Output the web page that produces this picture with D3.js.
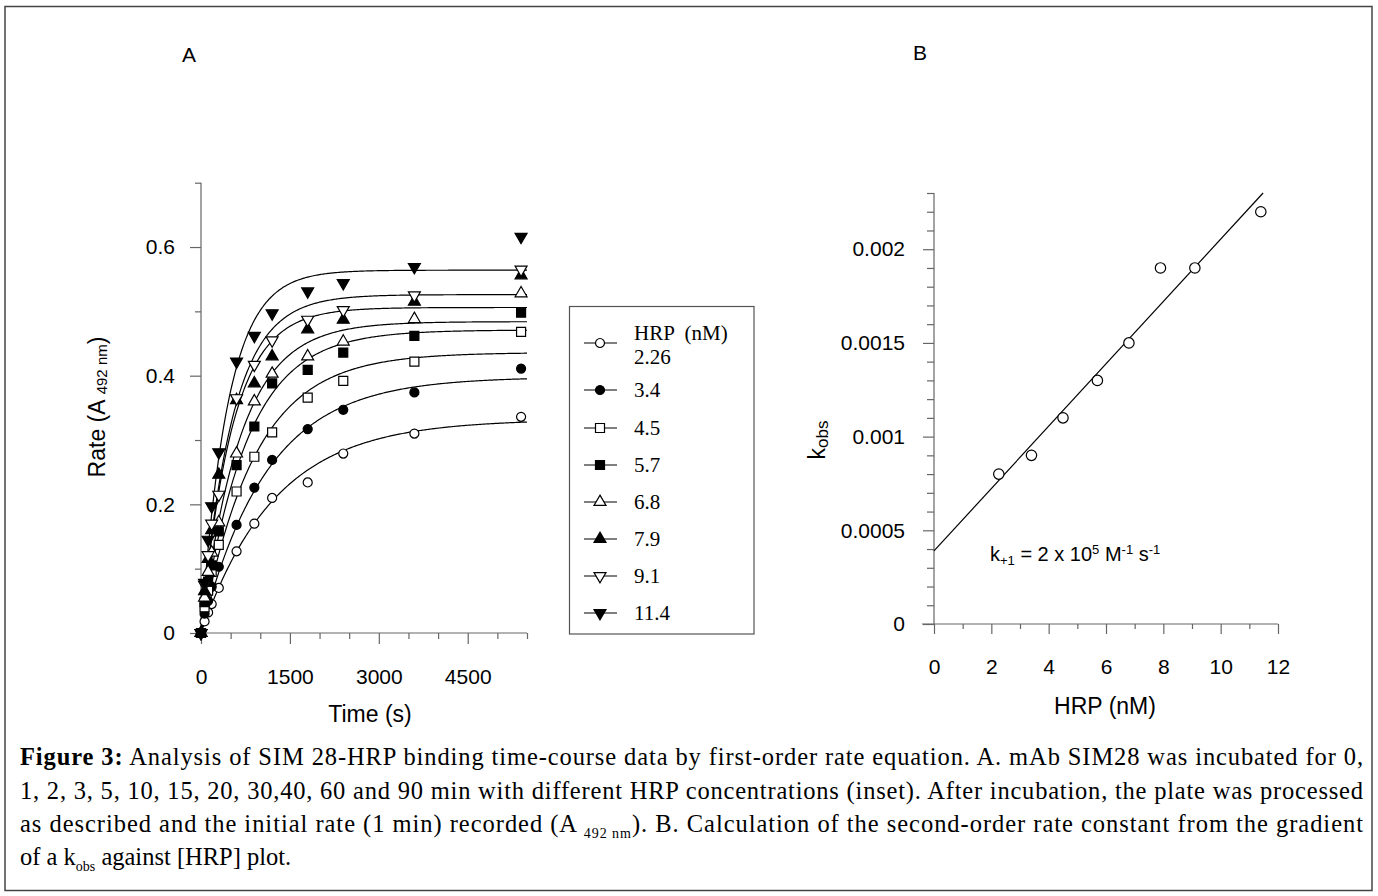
<!DOCTYPE html>
<html>
<head>
<meta charset="utf-8">
<script src="https://cdn.jsdelivr.net/npm/d3@7"></script>
<style>
  body { margin: 0; background: #fff; }
  svg { display: block; }
</style>
</head>
<body>
<svg id="fig"></svg>
<script>
const width = 1378, height = 896

// ---- panel A: rate vs incubation time, one series per HRP concentration ----
const times = [0, 60, 120, 180, 300, 600, 900, 1200, 1800, 2400, 3600, 5400]
const hrpLabels = ['2.26', '3.4', '4.5', '5.7', '6.8', '7.9', '9.1', '11.4']
const rate_2_26 = [0, 0.018, 0.032, 0.045, 0.070, 0.127, 0.170, 0.210, 0.234, 0.279, 0.310, 0.336]
const rate_3_4  = [0, 0.030, 0.050, 0.072, 0.103, 0.168, 0.226, 0.269, 0.317, 0.347, 0.374, 0.411]
const rate_4_5  = [0, 0.040, 0.066, 0.095, 0.137, 0.220, 0.274, 0.312, 0.366, 0.392, 0.422, 0.468]
const rate_5_7  = [0, 0.048, 0.080, 0.105, 0.158, 0.261, 0.321, 0.388, 0.409, 0.436, 0.462, 0.498]
const rate_6_8  = [0, 0.055, 0.095, 0.125, 0.172, 0.279, 0.360, 0.403, 0.430, 0.453, 0.488, 0.528]
const rate_7_9  = [0, 0.065, 0.115, 0.160, 0.246, 0.362, 0.388, 0.430, 0.472, 0.487, 0.515, 0.556]
const rate_9_1  = [0, 0.075, 0.121, 0.170, 0.215, 0.365, 0.417, 0.455, 0.487, 0.502, 0.525, 0.565]
const rate_11_4 = [0, 0.078, 0.145, 0.197, 0.281, 0.422, 0.462, 0.497, 0.531, 0.544, 0.569, 0.616]
const rates = [rate_2_26, rate_3_4, rate_4_5, rate_5_7, rate_6_8, rate_7_9, rate_9_1, rate_11_4]
const plateaus = [0.332, 0.398, 0.436, 0.471, 0.484, 0.506, 0.526, 0.564]

// ---- panel B: k_obs against HRP ----
const hrpConc = [2.26, 3.4, 4.5, 5.7, 6.8, 7.9, 9.1, 11.4]
const kobs = [0.0008, 0.0009, 0.0011, 0.0013, 0.0015, 0.0019, 0.0019, 0.0022]
const fitX = [0, 11.48]
const fitY = [0.00039, 0.0023]

// tick labels
const ticksAx = [0, 1500, 3000, 4500]
const ticksAy = [0, 0.2, 0.4, 0.6]
const ticksBx = [0, 2, 4, 6, 8, 10, 12]
const ticksBy = [0, 0.0005, 0.001, 0.0015, 0.002]

const sans = '"Liberation Sans", Arial, sans-serif'
const serif = '"Liberation Serif", "Times New Roman", serif'
const axisColor = '#666'

const svg = d3.select('#fig').attr('width', width).attr('height', height)

svg.append('rect')
    .attr('x', 5).attr('y', 6.5).attr('width', 1367).attr('height', 884)
    .attr('fill', 'none').attr('stroke', '#444').attr('stroke-width', 1.5)

// marker styles, in series order
const markers = [
  { type: d3.symbolCircle, size: 64, fill: '#fff', rot: 0 },
  { type: d3.symbolCircle, size: 64, fill: '#000', rot: 0 },
  { type: d3.symbolSquare, size: 81, fill: '#fff', rot: 0 },
  { type: d3.symbolSquare, size: 81, fill: '#000', rot: 0 },
  { type: d3.symbolTriangle, size: 62, fill: '#fff', rot: 0 },
  { type: d3.symbolTriangle, size: 62, fill: '#000', rot: 0 },
  { type: d3.symbolTriangle, size: 62, fill: '#fff', rot: 180 },
  { type: d3.symbolTriangle, size: 62, fill: '#000', rot: 180 }
]

const styleAxis = g => {
  g.select('.domain').remove()
  g.selectAll('line').attr('stroke', axisColor).attr('stroke-width', 1.2)
  g.selectAll('text').attr('font-family', sans).attr('font-size', 21).attr('fill', '#000')
}

// ================= panel A =================
const xA = d3.scaleLinear().domain([0, 5500]).range([201, 527])
const yA = d3.scaleLinear().domain([0, 0.7]).range([633, 182.7])

svg.append('g').attr('transform', `translate(0,${yA(0)})`)
    .call(d3.axisBottom(xA).tickValues(d3.range(500, 5501, 500).filter(v => v % 1500)).tickSize(6).tickFormat(''))
    .call(styleAxis)
svg.append('g').attr('transform', `translate(0,${yA(0)})`)
    .call(d3.axisBottom(xA).tickValues(ticksAx).tickSize(11).tickPadding(25).tickFormat(d => d))
    .call(styleAxis)
svg.append('g').attr('transform', `translate(${xA(0)},0)`)
    .call(d3.axisLeft(yA).tickValues([0.1, 0.3, 0.5, 0.7]).tickSize(6).tickFormat(''))
    .call(styleAxis)
svg.append('g').attr('transform', `translate(${xA(0)},0)`)
    .call(d3.axisLeft(yA).tickValues(ticksAy).tickSize(11).tickPadding(15).tickFormat(d => d))
    .call(styleAxis)

svg.append('line').attr('x1', xA(0) - 5).attr('x2', xA(5500)).attr('y1', yA(0)).attr('y2', yA(0))
    .attr('stroke', axisColor).attr('stroke-width', 1.2)
svg.append('line').attr('x1', xA(0)).attr('x2', xA(0)).attr('y1', yA(0)).attr('y2', yA(0.7))
    .attr('stroke', axisColor).attr('stroke-width', 1.2)

// first-order fits: plateau * (1 - exp(-kobs * t))
const fitTimes = d3.range(0, 5501, 20)
const curve = d3.line().x(d => xA(d[0])).y(d => yA(d[1]))
rates.forEach((r, i) => {
  svg.append('path')
      .attr('d', curve(fitTimes.map(t => [t, plateaus[i] * (1 - Math.exp(-kobs[i] * t))])))
      .attr('fill', 'none').attr('stroke', '#000').attr('stroke-width', 1.2)
})

const symbolPath = m => d3.symbol().type(m.type).size(m.size)()
rates.forEach((r, i) => {
  const m = markers[i]
  svg.append('g').selectAll('path').data(times.map((t, j) => [t, r[j]]))
    .enter().append('path')
      .attr('d', symbolPath(m))
      .attr('transform', d => `translate(${xA(d[0])},${yA(d[1])}) rotate(${m.rot})`)
      .attr('fill', m.fill).attr('stroke', '#000').attr('stroke-width', 1.2)
})

// legend
const legend = svg.append('g')
legend.append('rect').attr('x', 569.5).attr('y', 306.5).attr('width', 184.5).attr('height', 327.5)
    .attr('fill', '#fff').attr('stroke', '#555').attr('stroke-width', 1.2)
const rowY = [343, 390, 428, 465, 502, 539, 576, 613]
hrpLabels.forEach((lab, i) => {
  const m = markers[i]
  legend.append('line').attr('x1', 584).attr('x2', 617).attr('y1', rowY[i]).attr('y2', rowY[i])
      .attr('stroke', '#000').attr('stroke-width', 1.2)
  legend.append('path').attr('d', symbolPath(m))
      .attr('transform', `translate(600,${rowY[i]}) rotate(${m.rot})`)
      .attr('fill', m.fill).attr('stroke', '#000').attr('stroke-width', 1.2)
  legend.append('text').attr('x', 634).attr('y', (i === 0 ? 357 : rowY[i]) + 7)
      .attr('font-family', serif).attr('font-size', 21).text(lab)
})
legend.append('text').attr('x', 634).attr('y', 340)
    .attr('font-family', serif).attr('font-size', 21).attr('xml:space', 'preserve').text('HRP  (nM)')

// titles
svg.append('text').attr('x', 189).attr('y', 62).attr('text-anchor', 'middle')
    .attr('font-family', sans).attr('font-size', 21).text('A')
svg.append('text').attr('x', 370).attr('y', 722).attr('text-anchor', 'middle')
    .attr('font-family', sans).attr('font-size', 23).text('Time (s)')
const rateLab = svg.append('text').attr('transform', 'translate(105,407) rotate(-90)')
    .attr('text-anchor', 'middle').attr('font-family', sans).attr('font-size', 23)
rateLab.append('tspan').text('Rate (A ')
rateLab.append('tspan').attr('font-size', 15).attr('dy', 2).text('492 nm')
rateLab.append('tspan').attr('dy', -2).text(')')

// ================= panel B =================
const xB = d3.scaleLinear().domain([0, 12]).range([934, 1278])
const yB = d3.scaleLinear().domain([0, 0.0023]).range([624, 193])

svg.append('g').attr('transform', `translate(0,${yB(0)})`)
    .call(d3.axisBottom(xB).tickValues(d3.range(1, 12, 2)).tickSize(5).tickFormat(''))
    .call(styleAxis)
svg.append('g').attr('transform', `translate(0,${yB(0)})`)
    .call(d3.axisBottom(xB).tickValues(ticksBx).tickSize(10).tickPadding(25).tickFormat(d => d))
    .call(styleAxis)
svg.append('g').attr('transform', `translate(${xB(0)},0)`)
    .call(d3.axisLeft(yB).tickValues(d3.range(1, 24).filter(i => i % 5).map(i => i * 1e-4)).tickSize(7).tickFormat(''))
    .call(styleAxis)
svg.append('g').attr('transform', `translate(${xB(0)},0)`)
    .call(d3.axisLeft(yB).tickValues(ticksBy).tickSize(11).tickPadding(18).tickFormat(d => String(d)))
    .call(styleAxis)

svg.append('line').attr('x1', xB(0) - 12).attr('x2', xB(12)).attr('y1', yB(0)).attr('y2', yB(0))
    .attr('stroke', axisColor).attr('stroke-width', 1.2)
svg.append('line').attr('x1', xB(0)).attr('x2', xB(0)).attr('y1', yB(0)).attr('y2', yB(0.0023))
    .attr('stroke', axisColor).attr('stroke-width', 1.2)

svg.append('path')
    .attr('d', d3.line().x(d => xB(d[0])).y(d => yB(d[1]))(fitX.map((x, i) => [x, fitY[i]])))
    .attr('fill', 'none').attr('stroke', '#000').attr('stroke-width', 1.2)

svg.append('g').selectAll('circle').data(hrpConc.map((c, i) => [c, kobs[i]]))
  .enter().append('circle')
    .attr('cx', d => xB(d[0])).attr('cy', d => yB(d[1])).attr('r', 5.2)
    .attr('fill', '#fff').attr('stroke', '#000').attr('stroke-width', 1.2)

const ann = svg.append('text').attr('x', 990).attr('y', 561)
    .attr('font-family', sans).attr('font-size', 20).attr('xml:space', 'preserve')
ann.append('tspan').text('k')
ann.append('tspan').attr('font-size', 13).attr('dy', 4).text('+1')
ann.append('tspan').attr('dy', -4).text(' = 2 x 10')
ann.append('tspan').attr('font-size', 13).attr('dy', -7).text('5')
ann.append('tspan').attr('dy', 7).text(' M')
ann.append('tspan').attr('font-size', 13).attr('dy', -7).text('-1')
ann.append('tspan').attr('dy', 7).text(' s')
ann.append('tspan').attr('font-size', 13).attr('dy', -7).text('-1')

svg.append('text').attr('x', 920).attr('y', 60).attr('text-anchor', 'middle')
    .attr('font-family', sans).attr('font-size', 21).text('B')
svg.append('text').attr('x', 1105).attr('y', 714).attr('text-anchor', 'middle')
    .attr('font-family', sans).attr('font-size', 23).text('HRP (nM)')
const kLab = svg.append('text').attr('transform', 'translate(825,440) rotate(-90)')
    .attr('text-anchor', 'middle').attr('font-family', sans).attr('font-size', 23)
kLab.append('tspan').text('k')
kLab.append('tspan').attr('font-size', 17).attr('dy', 3).text('obs')

// ================= caption =================
const capX = 20, capW = 1343, capFont = 24.5
const cap1 = svg.append('text').attr('x', capX).attr('y', 765)
    .attr('font-family', serif).attr('font-size', capFont).attr('textLength', capW).attr('lengthAdjust', 'spacing')
cap1.append('tspan').attr('font-weight', 'bold').text('Figure 3:')
cap1.append('tspan').text(' Analysis of SIM 28-HRP binding time-course data by first-order rate equation. A. mAb SIM28 was incubated for 0,')

svg.append('text').attr('x', capX).attr('y', 798.5)
    .attr('font-family', serif).attr('font-size', capFont).attr('textLength', capW).attr('lengthAdjust', 'spacing')
    .text('1, 2, 3, 5, 10, 15, 20, 30,40, 60 and 90 min with different HRP concentrations (inset). After incubation, the plate was processed')

const cap3 = svg.append('text').attr('x', capX).attr('y', 832)
    .attr('font-family', serif).attr('font-size', capFont).attr('textLength', capW).attr('lengthAdjust', 'spacing')
cap3.append('tspan').text('as described and the initial rate (1 min) recorded (A ')
cap3.append('tspan').attr('font-size', 14).attr('dy', 6).text('492 nm')
cap3.append('tspan').attr('dy', -6).text('). B. Calculation of the second-order rate constant from the gradient')

const cap4 = svg.append('text').attr('x', capX).attr('y', 865)
    .attr('font-family', serif).attr('font-size', capFont)
cap4.append('tspan').text('of a k')
cap4.append('tspan').attr('font-size', 14).attr('dy', 6).text('obs')
cap4.append('tspan').attr('dy', -6).text(' against [HRP] plot.')
</script>
</body>
</html>
